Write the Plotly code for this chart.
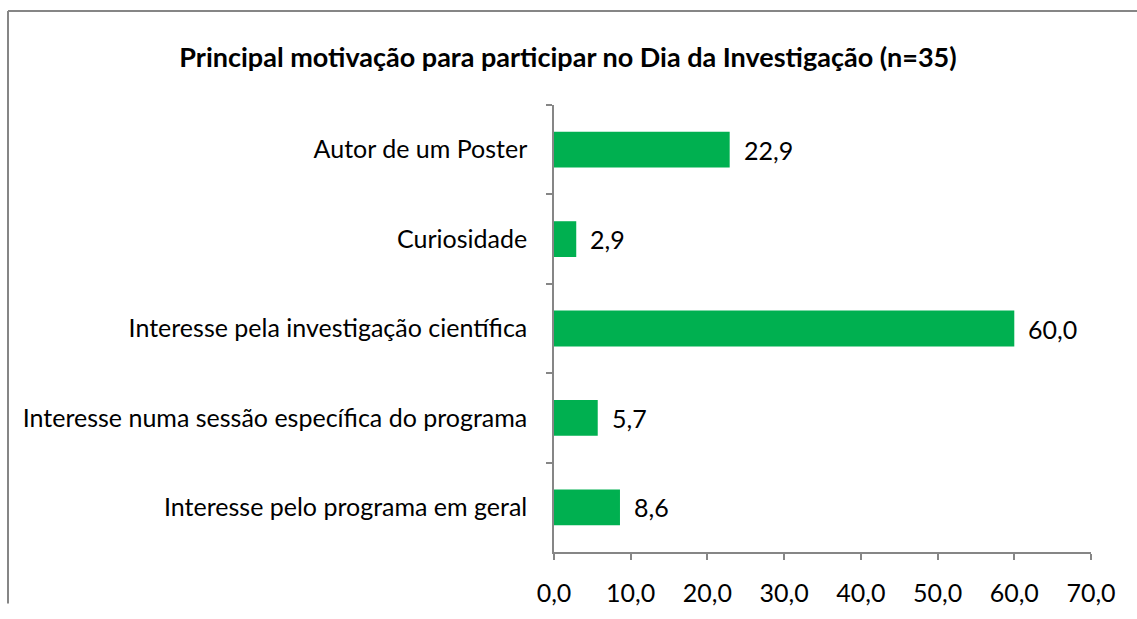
import plotly.graph_objects as go

# dados do gráfico
categorias = [
    "Autor de um Poster",
    "Curiosidade",
    "Interesse pela investigação científica",
    "Interesse numa sessão específica do programa",
    "Interesse pelo programa em geral",
]
percentagens = [22.9, 2.9, 60.0, 5.7, 8.6]
x_ticks = [0, 10, 20, 30, 40, 50, 60, 70]
titulo = "Principal motivação para participar no Dia da Investigação (n=35)"

W, H = 1137, 619
L, R, T, B = 554, 46, 105, 53
pw, ph = W - L - R, H - T - B

def px_x(p):
    return (p - L) / pw

def px_y(p):
    return (H - B - p) / ph

cinza = "#868686"

fig = go.Figure(go.Bar(
    x=percentagens, y=categorias, orientation="h",
    marker=dict(color="#00B050", line=dict(width=0)),
    width=0.4,
))

for c, v in zip(categorias, percentagens):
    fig.add_annotation(x=v, y=c, text=f"{v:.1f}".replace(".", ","),
                       xanchor="left", showarrow=False, xshift=12,
                       font=dict(size=25, color="black"))

# moldura (linhas de cima e da esquerda)
fig.add_shape(type="line", xref="paper", yref="paper",
              x0=px_x(8), x1=px_x(W), y0=px_y(8), y1=px_y(8),
              line=dict(color=cinza, width=2))
fig.add_shape(type="line", xref="paper", yref="paper",
              x0=px_x(8), x1=px_x(8), y0=px_y(8), y1=px_y(H),
              line=dict(color=cinza, width=2))

fig.update_layout(
    width=W, height=H,
    margin=dict(l=L, r=R, t=T, b=B),
    paper_bgcolor="white", plot_bgcolor="white",
    font=dict(family="Lato", size=25, color="black"),
    separators=",.",
    showlegend=False,
    title=dict(text="<b>" + titulo + "</b>", x=568 / W, xref="container",
               xanchor="center", y=1 - 58 / H, yanchor="middle",
               font=dict(size=27, family="Lato")),
    xaxis=dict(range=[0, 70], tickvals=x_ticks, tickformat=".1f",
               showgrid=False, zeroline=False,
               showline=True, linecolor=cinza, linewidth=1.5,
               ticks="outside", ticklen=6, tickcolor=cinza, tickwidth=1.5,
               ticklabelstandoff=12),
    yaxis=dict(autorange="reversed", showgrid=False, zeroline=False,
               showline=True, linecolor=cinza, linewidth=1.5,
               ticks="outside", ticklen=6, tickcolor=cinza, tickwidth=1.5,
               tickson="boundaries", ticklabelstandoff=20),
)

# tirar a margem do body para a figura ocupar a janela toda
js = ("document.body.style.margin='0';"
      "document.body.style.overflow='hidden';"
      "document.documentElement.style.overflow='hidden';")
fig.write_html("out.html", post_script=js, config={"displayModeBar": False})
